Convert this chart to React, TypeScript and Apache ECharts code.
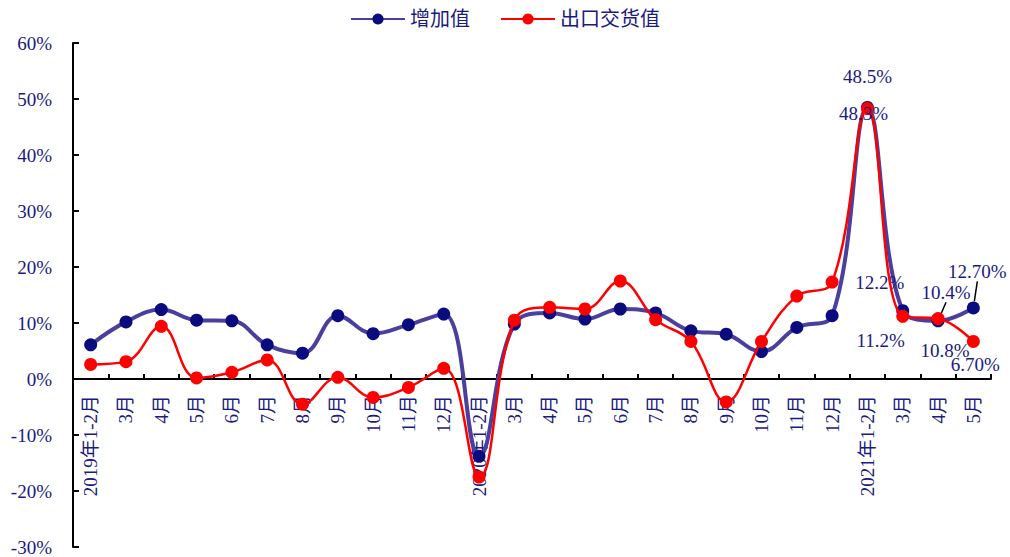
import React, { useEffect, useRef } from "react";
import * as echarts from "echarts";

const categories = [
  "2019年1-2月", "3月", "4月", "5月", "6月", "7月", "8月", "9月", "10月", "11月", "12月",
  "2020年1-2月", "3月", "4月", "5月", "6月", "7月", "8月", "9月", "10月", "11月", "12月",
  "2021年1-2月", "3月", "4月", "5月",
];

const addedValue = [
  6.1, 10.2, 12.4, 10.5, 10.4, 6.1, 4.6, 11.3, 8.1, 9.7, 11.6,
  -13.8, 9.8, 11.8, 10.7, 12.5, 11.8, 8.6, 8.0, 4.9, 9.2, 11.3,
  48.5, 12.2, 10.4, 12.7,
];

const exportValue = [
  2.6, 3.1, 9.4, 0.2, 1.2, 3.4, -4.5, 0.3, -3.3, -1.5, 1.9,
  -17.5, 10.5, 12.8, 12.5, 17.5, 10.6, 6.7, -4.1, 6.7, 14.8, 17.3,
  48.3, 11.2, 10.8, 6.7,
];

// labelled points: index -> [text, dx, dy]
const addedLabels: Record<number, [string, number, number]> = {
  22: ["48.5%", 0, -31],
  23: ["12.2%", -23, -28],
  24: ["10.4%", 8, -28],
  25: ["12.70%", 4, -36],
};
// labels drawn with a guide line to their point
const addedGuide = [24, 25];

const exportLabels: Record<number, [string, number, number]> = {
  22: ["48.3%", -4, 5],
  23: ["11.2%", -22, 24],
  24: ["10.8%", 7, 32],
  25: ["6.70%", 2, 23],
};

const yMin = -30;
const yMax = 60;
const yStep = 10;

const gridTop = 43;
const gridBottom = 10;
const chartH = 557;

const textColor = "#1a1a80";
const serif = "'Times New Roman', 'Liberation Serif', 'Noto Sans CJK SC', serif";

function buildData(
  values: number[],
  labels: Record<number, [string, number, number]>,
  useOffset: boolean,
  guide: number[] = []
) {
  return values.map((v, i) => {
    const l = labels[i];
    if (!l) return v;
    const item: any = {
      value: v,
      label: {
        show: true,
        position: "inside",
        formatter: l[0],
        offset: useOffset ? [l[1], l[2]] : [0, 0],
        color: textColor,
        fontSize: 19,
        fontFamily: serif,
      },
    };
    if (guide.indexOf(i) >= 0) {
      item.labelLine = { show: true, lineStyle: { color: "#000", width: 1.5 } };
    }
    return item;
  });
}

export default function App() {
  const ref = useRef<HTMLDivElement>(null);
  useEffect(() => {
    if (!ref.current) return;
    const chart = echarts.init(ref.current, undefined, { renderer: "svg" });
    const plotH = chartH - gridTop - gridBottom;
    // distance from grid bottom to the zero line, so the axis sits on 0
    const zeroOffset = -((0 - yMin) / (yMax - yMin)) * plotH;
    chart.setOption({
      animation: false,
      backgroundColor: "#ffffff",
      legend: {
        top: 4,
        left: "center",
        itemWidth: 54,
        itemHeight: 14,
        itemGap: 30,
        textStyle: { color: textColor, fontSize: 20, fontFamily: serif },
        data: ["增加值", "出口交货值"],
      },
      grid: { left: 73, right: 19, top: gridTop, bottom: gridBottom, containLabel: false, outerBoundsMode: "none" },
      xAxis: {
        type: "category",
        data: categories,
        boundaryGap: true,
        position: "bottom",
        offset: zeroOffset,
        axisLine: { onZero: false, lineStyle: { color: "#000", width: 2 } },
        axisTick: { show: true, inside: true, length: 5, interval: 0, lineStyle: { color: "#000", width: 2 } },
        axisLabel: {
          interval: 0,
          rotate: 90,
          margin: 16,
          color: textColor,
          fontSize: 19,
          fontFamily: serif,
        },
        splitLine: { show: false },
      },
      yAxis: {
        type: "value",
        min: yMin,
        max: yMax,
        interval: yStep,
        axisLine: { show: true, lineStyle: { color: "#000", width: 2 } },
        axisTick: { show: true, inside: true, length: 6, lineStyle: { color: "#000", width: 2 } },
        axisLabel: {
          formatter: "{value}%",
          margin: 21,
          color: textColor,
          fontSize: 19,
          fontFamily: serif,
        },
        splitLine: { show: false },
      },
      series: [
        {
          name: "增加值",
          type: "line",
          smooth: 0.4,
          data: buildData(addedValue, addedLabels, false, addedGuide),
          symbol: "circle",
          symbolSize: 13,
          itemStyle: { color: "#0b0b80" },
          lineStyle: { color: "#4a3f9e", width: 4 },
          labelLayout: (p: any) => {
            const l = addedLabels[p.dataIndex];
            return l ? { dx: l[1], dy: l[2] } : {};
          },
          z: 2,
        },
        {
          name: "出口交货值",
          type: "line",
          smooth: 0.4,
          data: buildData(exportValue, exportLabels, true),
          symbol: "circle",
          symbolSize: 13,
          itemStyle: { color: "#ff0000" },
          lineStyle: { color: "#ff0000", width: 2.5 },
          z: 3,
        },
      ],
    });
    return () => chart.dispose();
  }, []);
  return <div ref={ref} style={{ width: 1010, height: 557, position: "absolute", left: 0, top: 0 }} />;
}
